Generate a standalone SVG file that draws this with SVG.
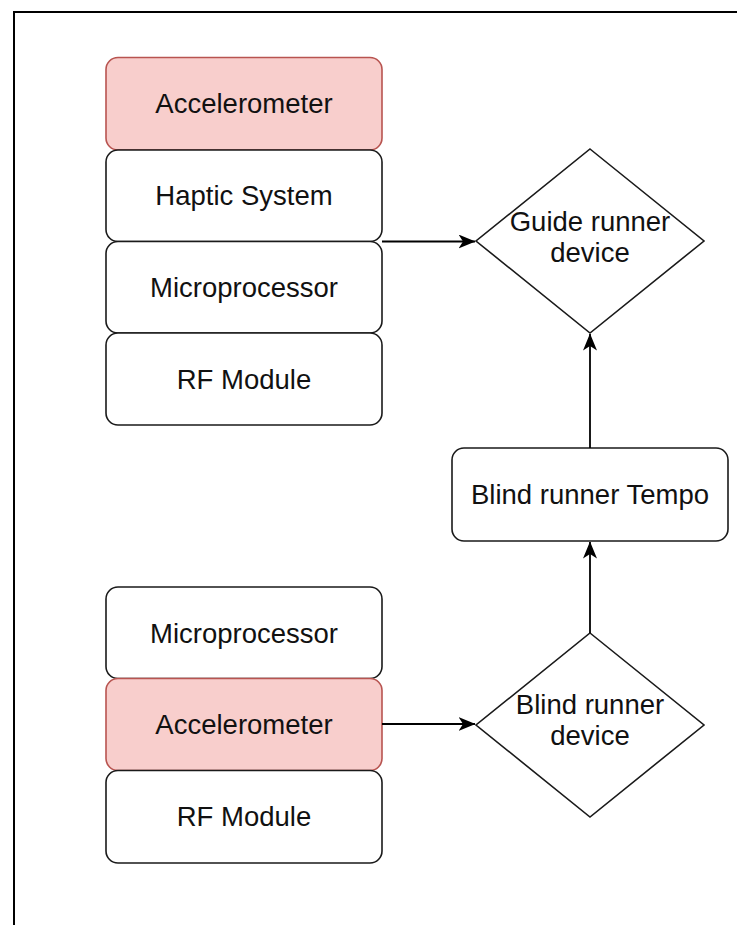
<svg xmlns="http://www.w3.org/2000/svg" width="737" height="925" viewBox="0 0 737 925">
<style>
.box{fill:#ffffff;stroke:#1a1a1a;stroke-width:1.6}
.pink{fill:#f8cecc;stroke:#b85450;stroke-width:1.6}
.dia{fill:#ffffff;stroke:#1a1a1a;stroke-width:1.6}
.t{font-family:"Liberation Sans",Arial,sans-serif;font-size:27.5px;fill:#111111;text-anchor:middle}
.edge{fill:none;stroke:#000;stroke-width:1.8}
</style>
<defs>
<marker id="arr" viewBox="0 0 17 14" refX="16.5" refY="7" markerWidth="17" markerHeight="14" markerUnits="userSpaceOnUse" orient="auto">
<path d="M0,0 L17,7 L0,14 L4.5,7 Z" fill="#000"/>
</marker>
</defs>
<rect width="737" height="925" fill="#ffffff"/>
<path d="M14,925 L14,12 L737,12" fill="none" stroke="#000" stroke-width="2"/>
<g id="accel-top"><rect class="pink" x="106" y="57.5" width="276" height="92.5" rx="12"/><text class="t" x="244" y="113">Accelerometer</text></g>
<g id="haptic"><rect class="box" x="106" y="150" width="276" height="91.5" rx="12"/><text class="t" x="244" y="205">Haptic System</text></g>
<g id="micro-top"><rect class="box" x="106" y="241.5" width="276" height="91.5" rx="12"/><text class="t" x="244" y="297">Microprocessor</text></g>
<g id="rf-top"><rect class="box" x="106" y="333" width="276" height="92" rx="12"/><text class="t" x="244" y="389">RF Module</text></g>
<g id="guide"><path class="dia" d="M590,149 L704,241 L590,333 L476,241 Z"/><text class="t" x="590" y="231">Guide runner</text><text class="t" x="590" y="262">device</text></g>
<g id="tempo"><rect class="box" x="452" y="448" width="276" height="93" rx="12"/><text class="t" x="590" y="504">Blind runner Tempo</text></g>
<g id="blind"><path class="dia" d="M590,633 L704,725 L590,817 L476,725 Z"/><text class="t" x="590" y="714">Blind runner</text><text class="t" x="590" y="745">device</text></g>
<g id="micro-bot"><rect class="box" x="106" y="587" width="276" height="91.5" rx="12"/><text class="t" x="244" y="643">Microprocessor</text></g>
<g id="accel-bot"><rect class="pink" x="106" y="678.5" width="276" height="92" rx="12"/><text class="t" x="244" y="734">Accelerometer</text></g>
<g id="rf-bot"><rect class="box" x="106" y="770.5" width="276" height="92.5" rx="12"/><text class="t" x="244" y="826">RF Module</text></g>
<g id="connectors">
<path class="edge" d="M382,241.5 L475,241.5" marker-end="url(#arr)"/>
<path class="edge" d="M382,724 L475,724" marker-end="url(#arr)"/>
<path class="edge" d="M590,633 L590,542" marker-end="url(#arr)"/>
<path class="edge" d="M590,448 L590,334" marker-end="url(#arr)"/>
</g>
</svg>
